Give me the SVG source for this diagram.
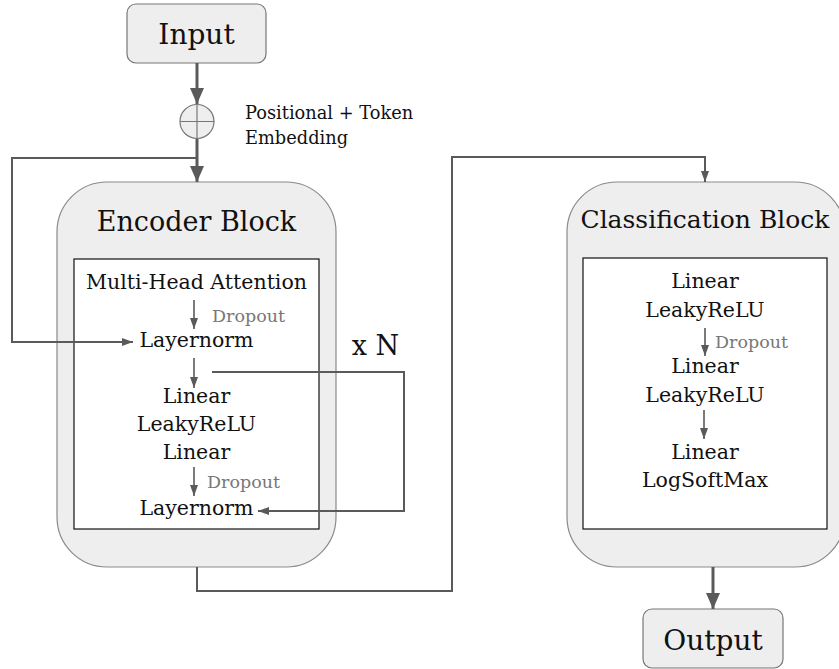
<svg xmlns="http://www.w3.org/2000/svg" width="839" height="669" viewBox="0 0 839 669">
  <style>
    .lbl { font-family: "DejaVu Serif", "Liberation Serif", serif; fill: #111; text-anchor: middle; }
    .step { font-size: 20.5px; }
    .drop { font-family: "DejaVu Serif", "Liberation Serif", serif; font-size: 17.5px; fill: #777; }
    .note { font-family: "DejaVu Serif", "Liberation Serif", serif; font-size: 17.8px; fill: #111; }
    .block { fill: #eeeeee; stroke: #8a8a8a; stroke-width: 1.2; }
    .term { fill: #eeeeee; stroke: #777; stroke-width: 1.2; }
    .inner { fill: #ffffff; stroke: #111; stroke-width: 1.2; }
    .thick { fill: none; stroke: #5a5a5a; stroke-width: 3; }
    .wire { fill: none; stroke: #5a5a5a; stroke-width: 2; }
    .small { fill: none; stroke: #5a5a5a; stroke-width: 1.6; }
  </style>
  <defs>
    <marker id="headBig" markerUnits="userSpaceOnUse" markerWidth="16" markerHeight="16" viewBox="0 0 16 16" refX="16" refY="8" orient="auto">
      <path d="M0,1 L16,8 L0,15 z" fill="#5a5a5a"/>
    </marker>
    <marker id="headSmall" markerUnits="userSpaceOnUse" markerWidth="11" markerHeight="10" viewBox="0 0 11 10" refX="11" refY="5" orient="auto">
      <path d="M0,1 L11,5 L0,9 z" fill="#5a5a5a"/>
    </marker>
  </defs>

  <!-- input terminal -->
  <g id="input">
    <rect class="term" x="127" y="4" width="139" height="59" rx="9"/>
    <text class="lbl" x="196.5" y="44" font-size="28">Input</text>
  </g>

  <!-- embedding sum -->
  <g id="embedding">
    <circle cx="197" cy="121.5" r="17" fill="#eeeeee" stroke="#777" stroke-width="1.2"/>
    <line x1="180" y1="121.5" x2="214" y2="121.5" stroke="#777" stroke-width="1.2"/>
    <line x1="197" y1="104.5" x2="197" y2="138.5" stroke="#777" stroke-width="1.2"/>
    <text class="note" x="245" y="119">Positional + Token</text>
    <text class="note" x="245" y="144">Embedding</text>
  </g>

  <!-- encoder block -->
  <g id="encoder">
    <rect class="block" x="57" y="182" width="279" height="385" rx="50"/>
    <text class="lbl" x="196.5" y="231" font-size="27">Encoder Block</text>
    <rect class="inner" x="74" y="259" width="245" height="270"/>
    <text class="lbl step" x="196.5" y="289">Multi-Head Attention</text>
    <text class="drop" x="212" y="322">Dropout</text>
    <text class="lbl step" x="196.5" y="347">Layernorm</text>
    <text class="lbl step" x="196.5" y="403">Linear</text>
    <text class="lbl step" x="196.5" y="431">LeakyReLU</text>
    <text class="lbl step" x="196.5" y="459">Linear</text>
    <text class="drop" x="207" y="488">Dropout</text>
    <text class="lbl step" x="196.5" y="515">Layernorm</text>
    <text class="lbl" x="375.5" y="355" font-size="27">x N</text>
  </g>

  <!-- classification block -->
  <g id="classifier">
    <rect class="block" x="567" y="182" width="278" height="385" rx="50"/>
    <text class="lbl" x="705" y="228" font-size="25">Classification Block</text>
    <rect class="inner" x="583" y="258" width="244" height="271"/>
    <text class="lbl step" x="705" y="288">Linear</text>
    <text class="lbl step" x="705" y="317">LeakyReLU</text>
    <text class="drop" x="715" y="348">Dropout</text>
    <text class="lbl step" x="705" y="373">Linear</text>
    <text class="lbl step" x="705" y="402">LeakyReLU</text>
    <text class="lbl step" x="705" y="459">Linear</text>
    <text class="lbl step" x="705" y="487">LogSoftMax</text>
  </g>

  <!-- output terminal -->
  <g id="output">
    <rect class="term" x="643" y="609" width="140" height="59" rx="9"/>
    <text class="lbl" x="713" y="650" font-size="28">Output</text>
  </g>

  <!-- connectors -->
  <g id="connectors">
    <line class="thick" x1="197" y1="63" x2="197" y2="104" marker-end="url(#headBig)"/>
    <line class="thick" x1="197" y1="139" x2="197" y2="182" marker-end="url(#headBig)"/>
    <polyline class="wire" points="197,158 12,158 12,342 133,342" marker-end="url(#headSmall)"/>
    <line class="small" x1="194" y1="300" x2="194" y2="329" marker-end="url(#headSmall)"/>
    <line class="small" x1="194" y1="358" x2="194" y2="388" marker-end="url(#headSmall)"/>
    <line class="small" x1="194" y1="467" x2="194" y2="496" marker-end="url(#headSmall)"/>
    <polyline class="wire" points="212,372 404,372 404,511 258,511" marker-end="url(#headSmall)"/>
    <polyline class="wire" points="197,567 197,591 452,591 452,157 705,157 705,182" marker-end="url(#headSmall)"/>
    <line class="small" x1="705" y1="328" x2="705" y2="356" marker-end="url(#headSmall)"/>
    <line class="small" x1="704" y1="410" x2="704" y2="439" marker-end="url(#headSmall)"/>
    <line class="thick" x1="713" y1="567" x2="713" y2="609" marker-end="url(#headBig)"/>
  </g>
</svg>
